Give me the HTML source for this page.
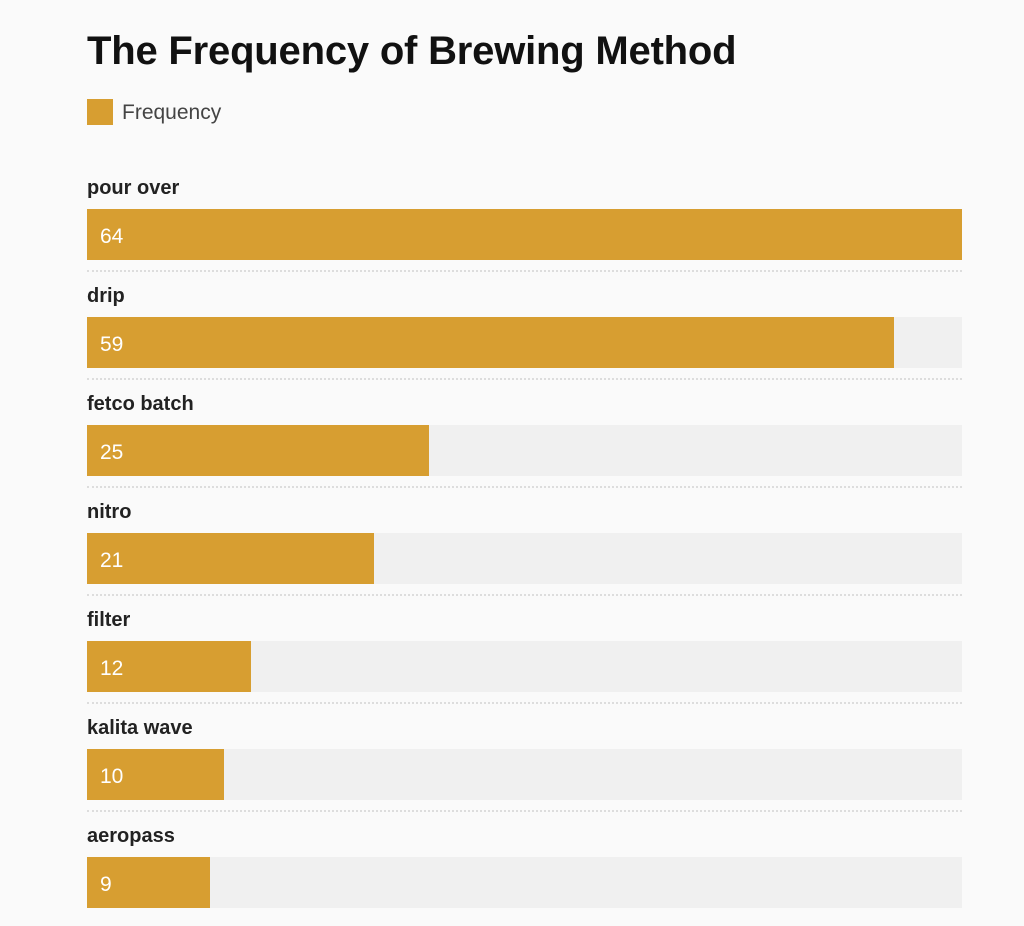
<!DOCTYPE html>
<html><head><style>
body{margin:0;width:1024px;height:926px;background:#fafafa;font-family:"Liberation Sans",sans-serif;position:relative;overflow:hidden}
h1{position:absolute;left:87px;top:29px;margin:0;font-size:40px;font-weight:bold;color:#111;letter-spacing:-0.2px}
.lg{position:absolute;left:87px;top:99px;width:26px;height:26px;background:#d79e31}
.lt{position:absolute;left:122px;top:101px;font-size:21px;color:#444}
.row{position:absolute;left:87px;width:875px}
.lab{position:absolute;font-size:20px;font-weight:bold;color:#222}
.track{position:absolute;top:0;left:0;width:875px;height:51px;background:#f0f0f0}
.bar{position:absolute;top:0;left:0;height:51px;background:#d79e31}
.v{position:absolute;left:13px;top:16px;font-size:21px;color:#fff}
.dot{position:absolute;top:61px;left:0;width:875px;border-top:2px dotted #ddd}
</style></head><body>
<h1>The Frequency of Brewing Method</h1>
<div class="lg"></div><div class="lt">Frequency</div>
<div class="row" style="top:209px"><div class="lab" style="top:-32px">pour over</div><div class="track"></div><div class="bar" style="width:875px"></div><div class="v">64</div><div class="dot"></div></div>
<div class="row" style="top:317px"><div class="lab" style="top:-32px">drip</div><div class="track"></div><div class="bar" style="width:807px"></div><div class="v">59</div><div class="dot"></div></div>
<div class="row" style="top:425px"><div class="lab" style="top:-32px">fetco batch</div><div class="track"></div><div class="bar" style="width:342px"></div><div class="v">25</div><div class="dot"></div></div>
<div class="row" style="top:533px"><div class="lab" style="top:-32px">nitro</div><div class="track"></div><div class="bar" style="width:287px"></div><div class="v">21</div><div class="dot"></div></div>
<div class="row" style="top:641px"><div class="lab" style="top:-32px">filter</div><div class="track"></div><div class="bar" style="width:164px"></div><div class="v">12</div><div class="dot"></div></div>
<div class="row" style="top:749px"><div class="lab" style="top:-32px">kalita wave</div><div class="track"></div><div class="bar" style="width:137px"></div><div class="v">10</div><div class="dot"></div></div>
<div class="row" style="top:857px"><div class="lab" style="top:-32px">aeropass</div><div class="track"></div><div class="bar" style="width:123px"></div><div class="v">9</div></div>
</body></html>
